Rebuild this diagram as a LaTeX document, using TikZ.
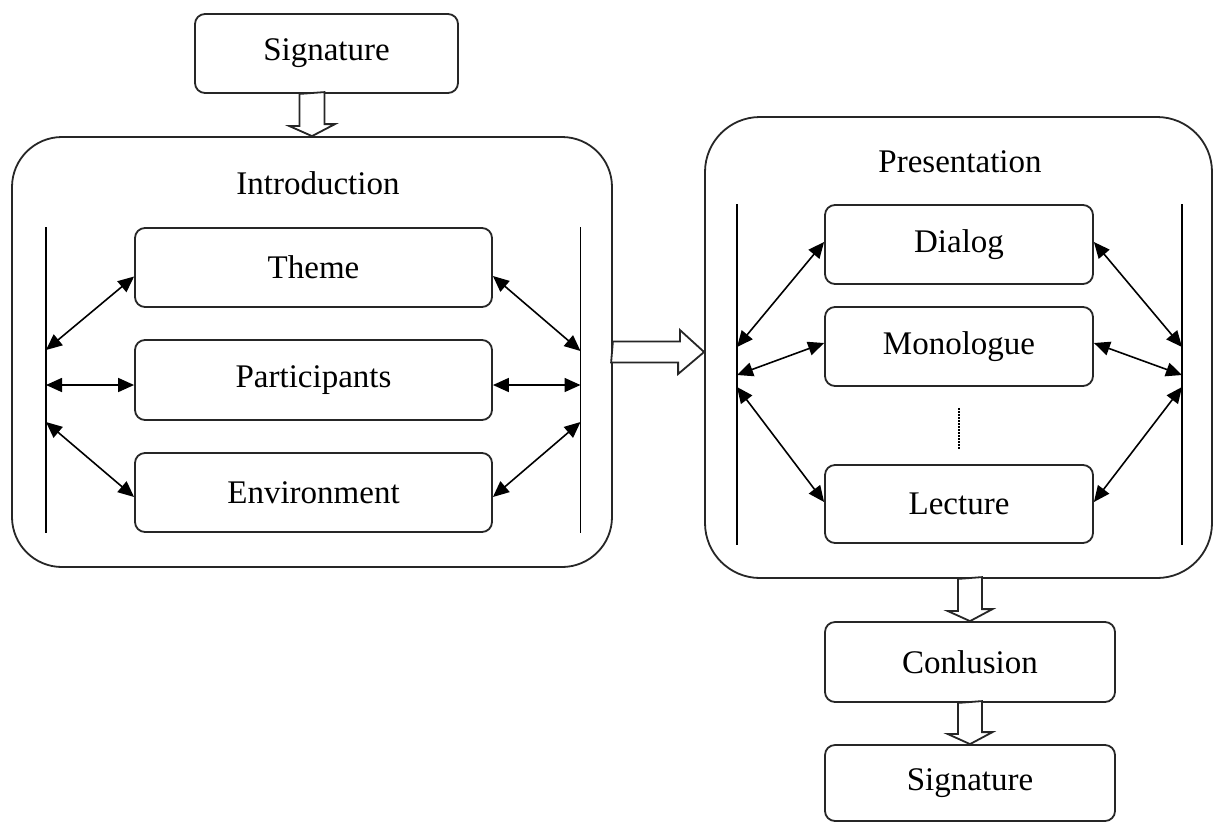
\documentclass[tikz,border=0pt]{standalone}
\usepackage{fontspec}
\setmainfont{Liberation Serif}
\usetikzlibrary{arrows.meta,calc}
\begin{document}
\begin{tikzpicture}[x=1pt,y=-1pt,
  txt/.style={font=\fontsize{33}{40}\selectfont},
  box/.style={draw=black!85, line width=1.8pt, rounded corners=10pt, fill=white,
              minimum height=79pt, inner sep=0pt, txt},
  group/.style={draw=black!85, line width=1.8pt, rounded corners=50pt, inner sep=0pt},
  link/.style={line width=1.6pt,
               {Triangle[length=16pt,width=14pt]}-{Triangle[length=16pt,width=14pt]}},
  rail/.style={line width=1.8pt},
  hollow/.style={draw=black!85, line width=1.8pt, fill=white, line join=miter}]

% canvas
\fill[white] (0,0) rectangle (1214,823);
\useasboundingbox (0,0) rectangle (1214,823);

% outer groups
\node[group, minimum width=600pt, minimum height=430pt] (intro) at (312,352) {};
\node[group, minimum width=507pt, minimum height=461pt, rounded corners=55pt] (pres) at (958.5,347.5) {};
\node[txt] (introtitle) at (318,183) {Introduction};
\node[txt] (prestitle) at (960,162) {Presentation};

% boxes
\node[box, minimum width=263pt] (sig) at (326.5,53.5) {Signature};
\node[box, minimum width=357pt] (theme) at (313.5,267.5) {Theme};
\node[box, minimum width=357pt, minimum height=80pt] (part) at (313.5,380) {Participants};
\node[box, minimum width=357pt] (env) at (313.5,492.5) {Environment};
\node[box, minimum width=268pt] (dialog) at (959,244.5) {Dialog};
\node[box, minimum width=268pt] (mono) at (959,346.5) {Monologue};
\node[box, minimum width=268pt, minimum height=78pt] (lect) at (959,504) {Lecture};
\node[box, minimum width=290pt, minimum height=80pt] (conl) at (970,662) {Conlusion};
\node[box, minimum width=290pt, minimum height=76pt] (sig2) at (970,783) {Signature};

% rails
\coordinate (lt) at (46,227);   \coordinate (lb) at (46,533);
\coordinate (rt) at (580.5,227); \coordinate (rb) at (580.5,533);
\coordinate (pt) at (737,204);  \coordinate (pb) at (737,545);
\coordinate (qt) at (1182,204); \coordinate (qb) at (1182,545);
\draw[rail] (lt) -- (lb);
\draw[rail] (rt) -- (rb);
\draw[rail] (pt) -- (pb);
\draw[rail] (qt) -- (qb);

% rail attachment points
\coordinate (a1) at (46,350);    \coordinate (a2) at (46,385);    \coordinate (a3) at (46,422);
\coordinate (b1) at (580.5,351); \coordinate (b2) at (580.5,385); \coordinate (b3) at (580.5,422);
\coordinate (c1) at (737,347);   \coordinate (c2) at (737,375);   \coordinate (c3) at (737,387);
\coordinate (d1) at (1182,347);  \coordinate (d2) at (1182,375);  \coordinate (d3) at (1182,387);

% introduction links
\draw[link] (a1) -- ([yshift=-9pt]theme.west);
\draw[link] (a2) -- ([yshift=-5pt]part.west);
\draw[link] (a3) -- ([yshift=-4.5pt]env.west);
\draw[link] ([yshift=-8.5pt]theme.east) -- (b1);
\draw[link] ([yshift=-5pt]part.east) -- (b2);
\draw[link] ([yshift=-4.5pt]env.east) -- (b3);

% presentation links
\draw[link] (c1) -- ([yshift=2.5pt]dialog.west);
\draw[link] (c2) -- ([yshift=3.5pt]mono.west);
\draw[link] (c3) -- ([yshift=2pt]lect.west);
\draw[link] ([yshift=2.5pt]dialog.east) -- (d1);
\draw[link] ([yshift=3.5pt]mono.east) -- (d2);
\draw[link] ([yshift=2pt]lect.east) -- (d3);

% ellipsis between monologue and lecture
\coordinate (dots1) at (959,408); \coordinate (dots2) at (959,450);
\draw[line width=1.8pt, dash pattern=on 1.5pt off 1.5pt] (dots1) -- (dots2);

% hollow block arrows
\draw[hollow] (intro.north |- sig.south) ++(-12.5,0) -- ++(0,32) -- ++(-10.5,0)
  -- (intro.north) -- ++(23,-12) -- ++(-10.5,0) -- ++(0,-32) -- cycle;
\draw[hollow] (intro.east) ++(0,-10.5) -- ++(67,0) -- ++(0,-11.5)
  -- (intro.east -| pres.west) -- ++(-26,22) -- ++(0,-11.5) -- ++(-67,0) -- cycle;
\draw[hollow] (conl.north |- pres.south) ++(-12,0) -- ++(0,32) -- ++(-10.5,0)
  -- (conl.north) -- ++(22.5,-12) -- ++(-10.5,0) -- ++(0,-32) -- cycle;
\draw[hollow] (conl.south) ++(-12,0) -- ++(0,31) -- ++(-10.5,0)
  -- (sig2.north) -- ++(22.5,-12) -- ++(-10.5,0) -- ++(0,-31) -- cycle;

\end{tikzpicture}
\end{document}
